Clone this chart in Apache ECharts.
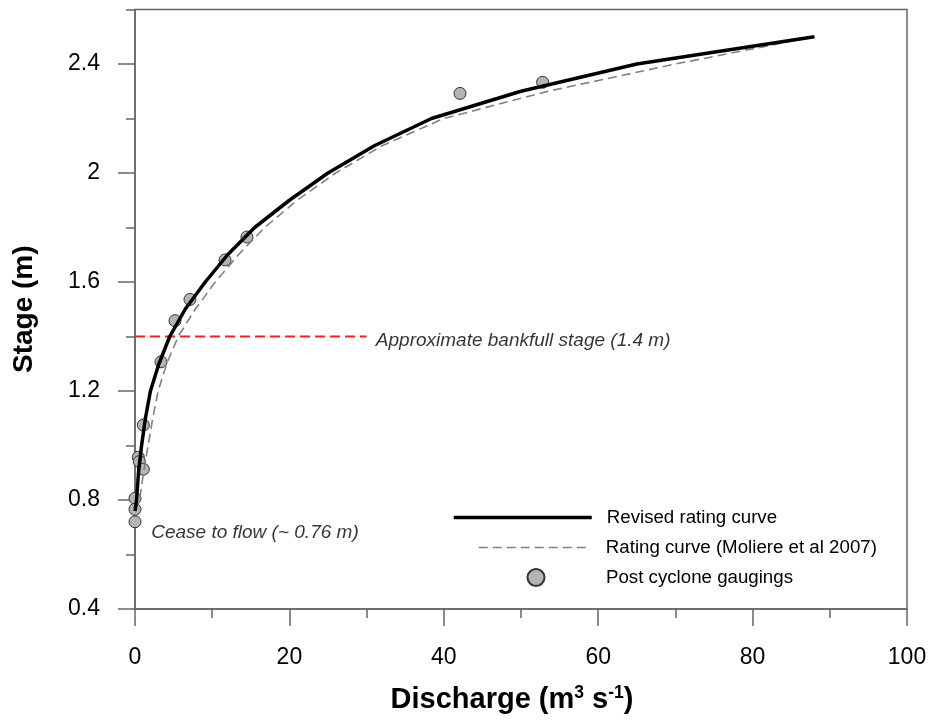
<!DOCTYPE html>
<html>
<head>
<meta charset="utf-8">
<script src="https://cdn.jsdelivr.net/npm/echarts@6/dist/echarts.min.js"></script>
<style>
html,body{margin:0;padding:0;background:#fff;}
#chart{width:930px;height:720px;}
</style>
</head>
<body>
<div id="chart"></div>
<script>
// Revised rating curve (discharge m3/s, stage m)
const revisedQ = [0, 0.2, 0.45, 0.85, 1.35, 2.0, 3.1, 4.5, 6.5, 9.1, 12.0, 15.5, 20, 25, 31, 38.4, 50, 65, 88];
const revisedH = [0.76, 0.8, 0.9, 1.0, 1.1, 1.2, 1.3, 1.4, 1.5, 1.6, 1.7, 1.8, 1.9, 2.0, 2.1, 2.2, 2.3, 2.4, 2.5];
// Rating curve (Moliere et al 2007)
const moliereQ = [0, 0.6, 1.1, 1.7, 2.3, 3.0, 4.1, 5.6, 7.8, 10.4, 13.4, 16.8, 21, 26, 32, 40, 53.5, 70, 88];
const moliereH = [0.76, 0.8, 0.9, 1.0, 1.1, 1.2, 1.3, 1.4, 1.5, 1.6, 1.7, 1.8, 1.9, 2.0, 2.1, 2.2, 2.3, 2.4, 2.5];
// Post cyclone gaugings
const gaugeQ = [0, 0, 0, 0.43, 0.56, 1.08, 1.08, 3.37, 5.18, 7.12, 11.66, 14.5, 42.1, 52.8];
const gaugeH = [0.806, 0.766, 0.72, 0.957, 0.941, 0.913, 1.075, 1.307, 1.458, 1.536, 1.681, 1.765, 2.292, 2.333];
// Approximate bankfull stage line
const bankfullQ = [0, 30];
const bankfullH = [1.4, 1.4];
// Axis ticks
const yMajorTicks = [0.4, 0.8, 1.2, 1.6, 2.0, 2.4];
const yMinorTicks = [0.6, 1.0, 1.4, 1.8, 2.2, 2.6];
const yTickLabels = ['0.4', '0.8', '1.2', '1.6', '2', '2.4'];

const names = ['Revised rating curve', 'Rating curve (Moliere et al 2007)', 'Post cyclone gaugings'];
const zip = (a, b) => a.map((v, i) => [v, b[i]]);
const FONT = "'Liberation Sans', Arial, sans-serif";
const AX = '#666666';

const chart = echarts.init(document.getElementById('chart'), null, {renderer: 'canvas'});
const yLabelMap = {};
yMajorTicks.forEach((v, i) => { yLabelMap[v.toFixed(1)] = yTickLabels[i]; });

const legendText = {fontFamily: FONT, fontSize: 18.7, color: '#000'};

const option = {
  animation: false,
  backgroundColor: '#ffffff',
  grid: {left: 135, right: 23, top: 9.5, bottom: 111, show: true, borderColor: AX, borderWidth: 1.5, backgroundColor: 'transparent'},
  xAxis: [{
    type: 'value', min: 0, max: 100, interval: 20,
    axisLine: {show: true, onZero: false, lineStyle: {color: AX, width: 1.5}},
    axisTick: {show: true, length: 17, lineStyle: {color: AX, width: 1.5}},
    minorTick: {show: true, splitNumber: 2, length: 9, lineStyle: {color: AX, width: 1.5}},
    splitLine: {show: false},
    axisLabel: {fontFamily: FONT, fontSize: 23, color: '#000', margin: 37},
    name: '{a|Discharge (m}{s|3}{a| s}{s|-1}{a|)}',
    nameLocation: 'middle', nameGap: 75,
    nameTextStyle: {padding: [0, 18, 0, 0], rich: {
      a: {fontFamily: FONT, fontSize: 29, fontWeight: 'bold', color: '#000'},
      s: {fontFamily: FONT, fontSize: 17.5, fontWeight: 'bold', color: '#000', padding: [0, 0, 13, 0]}
    }}
  }],
  yAxis: [{
    type: 'value', min: 0.4, max: 2.6,
    axisLine: {show: true, onZero: false, lineStyle: {color: AX, width: 1.5}},
    axisTick: {show: true, length: 17, customValues: yMajorTicks, lineStyle: {color: AX, width: 1.5}},
    splitLine: {show: false},
    axisLabel: {fontFamily: FONT, fontSize: 23, color: '#000', margin: 35, customValues: yMajorTicks,
      formatter: v => yLabelMap[Number(v).toFixed(1)] || ''},
    name: 'Stage (m)', nameLocation: 'middle', nameGap: 97,
    nameTextStyle: {fontFamily: FONT, fontSize: 28, fontWeight: 'bold', color: '#000'}
  }, {
    type: 'value', min: 0.4, max: 2.6, position: 'left',
    axisLine: {show: false},
    axisTick: {show: true, length: 9, customValues: yMinorTicks, lineStyle: {color: AX, width: 1.5}},
    axisLabel: {show: false},
    splitLine: {show: false}
  }],
  legend: [{
    data: [names[0]], left: 452, top: 508, padding: 0, itemWidth: 138, itemHeight: 16, orient: 'vertical',
    itemStyle: {opacity: 0}, lineStyle: {color: '#000', width: 3.5, type: 'solid'},
    textStyle: Object.assign({padding: [0, 0, 0, 10]}, legendText)
  }, {
    data: [names[1]], left: 478, top: 538, padding: 0, itemWidth: 112, itemHeight: 16, orient: 'vertical',
    itemStyle: {opacity: 0}, lineStyle: {color: '#808080', width: 1.6, type: [9, 5]},
    textStyle: Object.assign({padding: [0, 0, 0, 10]}, legendText)
  }, {
    data: [names[2]], left: 526.5, top: 568, padding: 0, itemWidth: 17, itemHeight: 17, orient: 'vertical',
    textStyle: Object.assign({padding: [0, 0, 0, 56.5]}, legendText)
  }],
  series: [{
    name: names[2], type: 'scatter', data: zip(gaugeQ, gaugeH), symbol: 'circle', symbolSize: 12, z: 2,
    itemStyle: {color: '#b4b4b4', borderColor: '#333', borderWidth: 1, opacity: 1}
  }, {
    name: 'bankfull', type: 'line', data: zip(bankfullQ, bankfullH), symbol: 'none', z: 3,
    lineStyle: {color: '#ee2222', width: 2, type: [10, 5]}
  }, {
    name: names[1], type: 'line', data: zip(moliereQ, moliereH), symbol: 'none', z: 4,
    itemStyle: {color: '#808080'},
    lineStyle: {color: '#808080', width: 1.6, type: [9, 5]}
  }, {
    name: names[0], type: 'line', data: zip(revisedQ, revisedH), symbol: 'none', z: 5,
    itemStyle: {color: '#000'},
    lineStyle: {color: '#000', width: 3.5}
  }, {
    name: 'annotations', type: 'scatter', symbolSize: 0, z: 6, silent: true,
    data: [
      {value: [31.2, 1.385], label: {formatter: 'Approximate bankfull stage (1.4 m)'}},
      {value: [2.1, 0.68], label: {formatter: 'Cease to flow (~ 0.76 m)'}}
    ],
    label: {show: true, position: 'right', distance: 0, fontFamily: FONT, fontSize: 19, fontStyle: 'italic', color: '#000', textBorderWidth: 0}
  }]
};
chart.setOption(option);
</script>
</body>
</html>
